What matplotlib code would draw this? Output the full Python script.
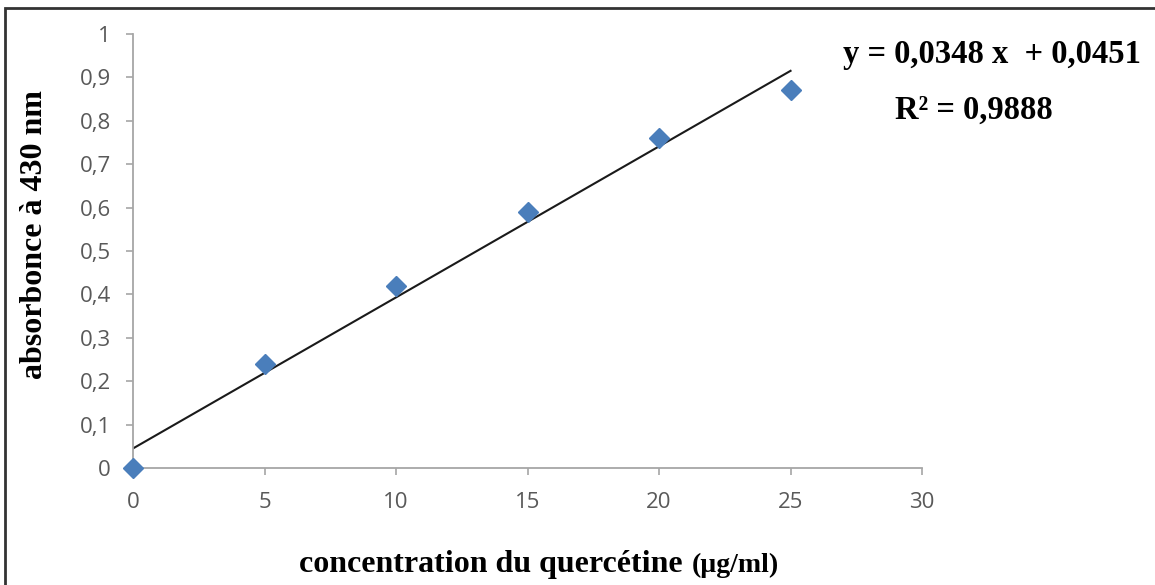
import numpy as np
import matplotlib.pyplot as plt
from matplotlib.patches import Rectangle

# data
conc = [0, 5, 10, 15, 20, 25]
absorb = [0.0, 0.24, 0.42, 0.59, 0.76, 0.87]
slope = 0.0348
intercept = 0.0451
r2 = "0,9888"
xticks = [0, 5, 10, 15, 20, 25, 30]
yticks = [0, 0.1, 0.2, 0.3, 0.4, 0.5, 0.6, 0.7, 0.8, 0.9, 1]

fig = plt.figure(figsize=(11.55, 5.85), dpi=100)
ax = fig.add_axes([0.1152, 0.2, 0.6831, 0.7419])

fit_x = np.array([conc[0], conc[-1]])
ax.plot(fit_x, slope * fit_x + intercept, color="#1a1a1a", lw=1.5, zorder=2)
ax.plot(conc, absorb, ls="none", marker="D", ms=10, color="#4a7ebb", zorder=3, clip_on=False)

ax.set_xlim(0, 30)
ax.set_ylim(0, 1)
ax.set_xticks(xticks)
ax.set_xticklabels([str(t) for t in xticks])
ax.set_yticks(yticks)
ax.set_yticklabels([("%g" % t).replace(".", ",") for t in yticks])

for s in ["top", "right"]:
    ax.spines[s].set_visible(False)
for s in ["left", "bottom"]:
    ax.spines[s].set_color("#a6a6a6")
    ax.spines[s].set_linewidth(1.3)
ax.tick_params(direction="out", length=5, width=1.2, color="#a6a6a6",
               labelcolor="#595959", labelsize=16)
ax.tick_params(axis="y", pad=11)
ax.tick_params(axis="x", pad=12)
for lab in ax.get_xticklabels() + ax.get_yticklabels():
    lab.set_family("Open Sans")

ax.set_ylabel("absorbonce à 430 nm", fontfamily="Liberation Serif",
              fontweight="bold", fontsize=23)
ax.yaxis.set_label_coords(-0.107, 0.537)

fig.text(0.598, 0.022, "concentration du quercétine ", fontfamily="Liberation Serif",
         fontweight="bold", fontsize=23, ha="right", va="baseline")
fig.text(0.599, 0.022, "(µg/ml)", fontfamily="Liberation Serif",
         fontweight="bold", fontsize=20, ha="left", va="baseline")

fig.text(0.859, 0.906, "y = 0,0348 x  + 0,0451", fontfamily="Liberation Serif",
         fontweight="bold", fontsize=23.5, ha="center", va="center")
fig.text(0.843, 0.812, "R² = " + r2, fontfamily="Liberation Serif",
         fontweight="bold", fontsize=23.5, ha="center", va="center")

fig.patches.append(Rectangle((0.0045, -0.01), 1.0, 0.9965, transform=fig.transFigure,
                             fill=False, ec="#333333", lw=2))

fig.savefig("out.png", dpi=100)
